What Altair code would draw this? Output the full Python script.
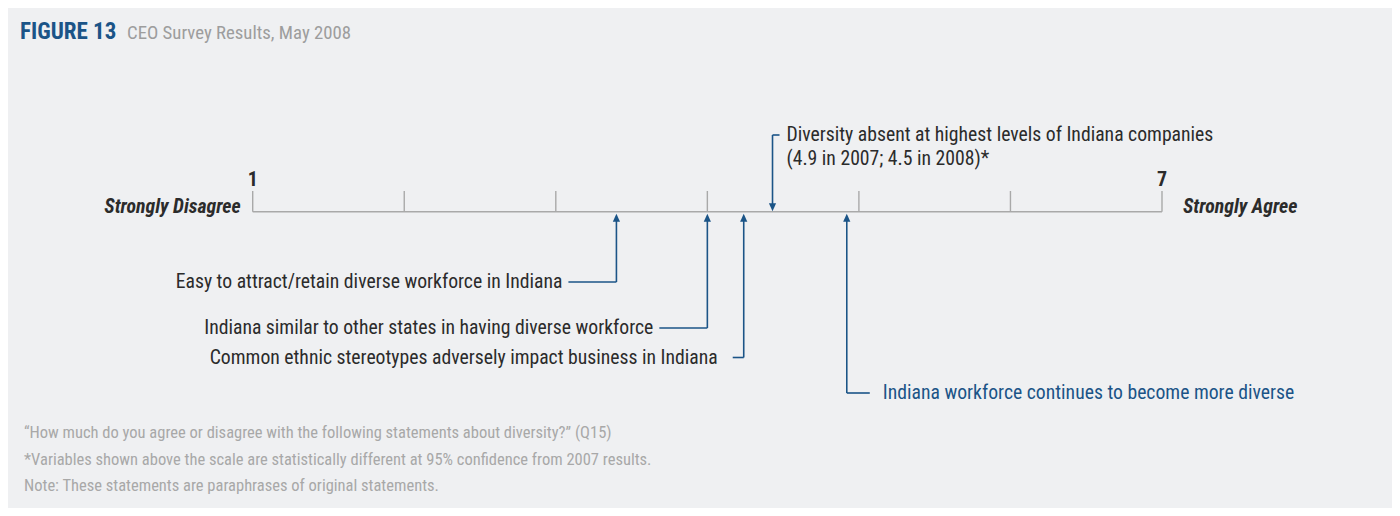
import altair as alt
import pandas as pd

# ---------------- data ----------------
statements = [
    "Easy to attract/retain diverse workforce in Indiana",
    "Indiana similar to other states in having diverse workforce",
    "Common ethnic stereotypes adversely impact business in Indiana",
    "Indiana workforce continues to become more diverse",
    "Diversity absent at highest levels of Indiana companies",
]
scores = [3.4, 4.0, 4.24, 4.92, 4.43]
second_line = ["", "", "", "", "(4.9 in 2007; 4.5 in 2008)*"]
scale_points = [1, 2, 3, 4, 5, 6, 7]
end_numbers = ["1", "", "", "", "", "", "7"]
end_labels = ["Strongly Disagree", "Strongly Agree"]
title_main = "FIGURE 13"
title_sub = "CEO Survey Results, May 2008"
footnotes = [
    "\u201cHow much do you agree or disagree with the following statements about diversity?\u201d (Q15)",
    "*Variables shown above the scale are statistically different at 95% confidence from 2007 results.",
    "Note: These statements are paraphrases of original statements.",
]

# ---------------- layout / style ----------------
W, H = 1384, 500
X_RANGE = [244.7, 1154]
AXIS_Y = 203.7
TICK_TOP = 183
FONT = "Roboto Condensed, Liberation Sans Narrow, DejaVu Sans Condensed, sans-serif"
BG = "#eff0f2"
GREY = "#a9a9a9"
BLUE = "#1b5487"
DARK = "#2b2b2b"
NOTE = "#a8a8a8"
ARROW_UP = "M0,-1L-0.9,1L0.9,1Z"
ARROW_DOWN = "M0,1L-0.9,-1L0.9,-1Z"
LABEL_SIZE = 19.7
END_SIZE = 19.8
NOTE_SIZE = 16.5

# per statement: (side, row y, elbow length, text gap, text colour, above?)
layout = [
    ("left", 274, 48, 6, DARK, False),
    ("left", 320, 48, 6, DARK, False),
    ("left", 349.5, 11, 15, DARK, False),
    ("right", 385, 23, 13, BLUE, False),
    ("right", 127, 7, 7, DARK, True),
]

xscale = alt.Scale(domain=[scale_points[0], scale_points[-1]], range=X_RANGE)


def X(field="v"):
    return alt.X(f"{field}:Q", scale=xscale, axis=None)


layers = []

# axis line
axis_df = pd.DataFrame({"v": [scale_points[0]], "v2": [scale_points[-1]]})
layers.append(
    alt.Chart(axis_df).mark_rule(color=GREY, strokeWidth=1.6).encode(
        x=X(), x2="v2", y=alt.value(AXIS_Y)
    )
)

# ticks
tick_df = pd.DataFrame({"v": scale_points, "lab": end_numbers})
layers.append(
    alt.Chart(tick_df).mark_rule(color=GREY, strokeWidth=1.4).encode(
        x=X(), y=alt.value(TICK_TOP), y2=alt.value(AXIS_Y)
    )
)
layers.append(
    alt.Chart(tick_df).mark_text(
        font=FONT, fontSize=20, fontWeight="bold", color=DARK, baseline="alphabetic", align="center"
    ).encode(x=X(), y=alt.value(178), text="lab:N")
)

# end labels
left_df = pd.DataFrame({"v": [scale_points[0]], "t": [end_labels[0]]})
right_df = pd.DataFrame({"v": [scale_points[-1]], "t": [end_labels[1]]})
layers.append(
    alt.Chart(left_df).mark_text(
        font=FONT, fontSize=END_SIZE, fontWeight="bold", fontStyle="italic", color=DARK,
        align="right", baseline="alphabetic", dx=-12,
    ).encode(x=X(), y=alt.value(AXIS_Y + 1.5), text="t:N")
)
layers.append(
    alt.Chart(right_df).mark_text(
        font=FONT, fontSize=END_SIZE, fontWeight="bold", fontStyle="italic", color=DARK,
        align="left", baseline="alphabetic", dx=21,
    ).encode(x=X(), y=alt.value(AXIS_Y + 1.5), text="t:N")
)

# statements with arrows
for stmt, sc, l2, (side, row_y, elbow, gap, tcol, above) in zip(
    statements, scores, second_line, layout
):
    df = pd.DataFrame({"v": [sc], "t": [stmt], "t2": [l2]})
    sign = -1 if side == "left" else 1
    if above:
        tip_c = AXIS_Y - 4.5
        v_start = row_y
        v_end = AXIS_Y - 6
        shape = ARROW_DOWN
    else:
        tip_c = AXIS_Y + 6
        v_start = AXIS_Y + 8
        v_end = row_y
        shape = ARROW_UP
    layers.append(
        alt.Chart(df).mark_rule(color=BLUE, strokeWidth=1.6).encode(
            x=X(), y=alt.value(v_start), y2=alt.value(v_end)
        )
    )
    layers.append(
        alt.Chart(df).mark_rule(color=BLUE, strokeWidth=1.6, x2Offset=sign * elbow).encode(
            x=X(), x2="v:Q", y=alt.value(row_y)
        )
    )
    layers.append(
        alt.Chart(df).mark_point(
            shape=shape, filled=True, size=64, color=BLUE, opacity=1, strokeWidth=0
        ).encode(x=X(), y=alt.value(tip_c))
    )
    layers.append(
        alt.Chart(df).mark_text(
            font=FONT, fontSize=LABEL_SIZE, color=tcol, align="right" if side == "left" else "left",
            baseline="middle", dx=sign * (elbow + gap),
        ).encode(x=X(), y=alt.value(row_y), text="t:N")
    )
    if l2:
        layers.append(
            alt.Chart(df).mark_text(
                font=FONT, fontSize=LABEL_SIZE, color=tcol, align="left",
                baseline="middle", dx=sign * (elbow + gap),
            ).encode(x=X(), y=alt.value(row_y + 24), text="t2:N")
        )

# title
title_df = pd.DataFrame({"a": [title_main], "b": [title_sub]})
layers.append(
    alt.Chart(title_df).mark_text(
        font=FONT, fontSize=23, fontWeight="bold", color=BLUE, align="left", baseline="alphabetic"
    ).encode(x=alt.value(12), y=alt.value(31), text="a:N")
)
layers.append(
    alt.Chart(title_df).mark_text(
        font=FONT, fontSize=18.8, color="#9d9d9d", align="left", baseline="alphabetic"
    ).encode(x=alt.value(119), y=alt.value(31), text="b:N")
)

# footnotes
for i, note in enumerate(footnotes):
    ndf = pd.DataFrame({"t": [note]})
    layers.append(
        alt.Chart(ndf).mark_text(
            font=FONT, fontSize=NOTE_SIZE, color=NOTE, align="left", baseline="middle"
        ).encode(x=alt.value(16), y=alt.value(425 + i * 26.5), text="t:N")
    )

chart = (
    alt.layer(*layers)
    .properties(width=W, height=H, background=BG, padding=0, autosize=alt.AutoSizeParams(type="none"))
    .configure_view(stroke=None)
)

chart.save("out.html", embed_options={"renderer": "svg", "actions": False})
